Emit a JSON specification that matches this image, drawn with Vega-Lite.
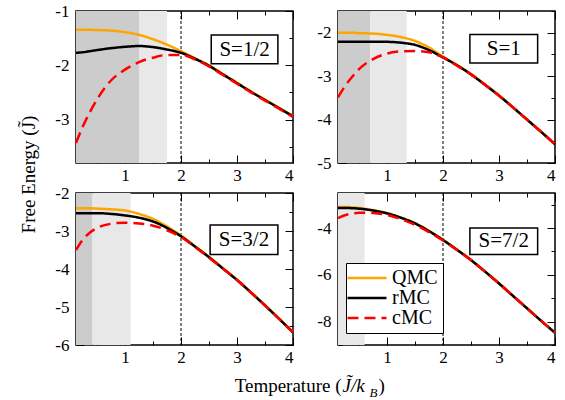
{
  "$schema": "https://vega.github.io/schema/vega-lite/v6.json",
  "padding": {"left": 18, "top": 1, "right": 0, "bottom": 0},
  "config": {
    "font": "Liberation Serif",
    "view": {"stroke": "black", "strokeWidth": 1.5},
    "axis": {
      "domain": false, "grid": false, "ticks": true,
      "tickColor": "black", "tickWidth": 1,
      "labelFont": "Liberation Serif", "labelFontSize": 17, "labelColor": "black",
      "titleFont": "Liberation Serif", "titleFontSize": 19, "titleFontWeight": "normal", "titleColor": "black"
    },
    "axisX": {"labelPadding": 4},
    "axisY": {"labelPadding": 7}
  },
  "datasets": {
    "bands": [
      {"S": "1/2", "tone": "dark", "start": 0.125, "end": 1.25},
      {"S": "1/2", "tone": "light", "start": 1.25, "end": 1.75},
      {"S": "1", "tone": "dark", "start": 0.125, "end": 0.7},
      {"S": "1", "tone": "light", "start": 0.7, "end": 1.35},
      {"S": "3/2", "tone": "dark", "start": 0.125, "end": 0.42},
      {"S": "3/2", "tone": "light", "start": 0.42, "end": 1.1},
      {"S": "7/2", "tone": "light", "start": 0.125, "end": 0.6}
    ],
    "curves": [
      {"S":"1/2","method":"QMC","T":0.125,"F":-1.345},{"S":"1/2","method":"QMC","T":0.25,"F":-1.345},{"S":"1/2","method":"QMC","T":0.375,"F":-1.347},{"S":"1/2","method":"QMC","T":0.5,"F":-1.35},{"S":"1/2","method":"QMC","T":0.75,"F":-1.36},{"S":"1/2","method":"QMC","T":1,"F":-1.39},{"S":"1/2","method":"QMC","T":1.25,"F":-1.44},{"S":"1/2","method":"QMC","T":1.5,"F":-1.52},{"S":"1/2","method":"QMC","T":1.75,"F":-1.62},{"S":"1/2","method":"QMC","T":2,"F":-1.74},{"S":"1/2","method":"QMC","T":2.25,"F":-1.87},{"S":"1/2","method":"QMC","T":2.5,"F":-2.0},{"S":"1/2","method":"QMC","T":2.75,"F":-2.16},{"S":"1/2","method":"QMC","T":3,"F":-2.32},{"S":"1/2","method":"QMC","T":3.25,"F":-2.48},{"S":"1/2","method":"QMC","T":3.5,"F":-2.63},{"S":"1/2","method":"QMC","T":3.75,"F":-2.78},{"S":"1/2","method":"QMC","T":4,"F":-2.93},
      {"S":"1/2","method":"rMC","T":0.125,"F":-1.77},{"S":"1/2","method":"rMC","T":0.25,"F":-1.76},{"S":"1/2","method":"rMC","T":0.375,"F":-1.74},{"S":"1/2","method":"rMC","T":0.5,"F":-1.72},{"S":"1/2","method":"rMC","T":0.75,"F":-1.685},{"S":"1/2","method":"rMC","T":1,"F":-1.66},{"S":"1/2","method":"rMC","T":1.25,"F":-1.645},{"S":"1/2","method":"rMC","T":1.5,"F":-1.665},{"S":"1/2","method":"rMC","T":1.75,"F":-1.71},{"S":"1/2","method":"rMC","T":2,"F":-1.77},{"S":"1/2","method":"rMC","T":2.25,"F":-1.88},{"S":"1/2","method":"rMC","T":2.5,"F":-2.01},{"S":"1/2","method":"rMC","T":2.75,"F":-2.17},{"S":"1/2","method":"rMC","T":3,"F":-2.33},{"S":"1/2","method":"rMC","T":3.25,"F":-2.49},{"S":"1/2","method":"rMC","T":3.5,"F":-2.64},{"S":"1/2","method":"rMC","T":3.75,"F":-2.79},{"S":"1/2","method":"rMC","T":4,"F":-2.94},
      {"S":"1/2","method":"cMC","T":0.125,"F":-3.43},{"S":"1/2","method":"cMC","T":0.25,"F":-3.12},{"S":"1/2","method":"cMC","T":0.375,"F":-2.86},{"S":"1/2","method":"cMC","T":0.5,"F":-2.63},{"S":"1/2","method":"cMC","T":0.75,"F":-2.28},{"S":"1/2","method":"cMC","T":1,"F":-2.08},{"S":"1/2","method":"cMC","T":1.25,"F":-1.94},{"S":"1/2","method":"cMC","T":1.5,"F":-1.86},{"S":"1/2","method":"cMC","T":1.75,"F":-1.81},{"S":"1/2","method":"cMC","T":2,"F":-1.81},{"S":"1/2","method":"cMC","T":2.25,"F":-1.89},{"S":"1/2","method":"cMC","T":2.5,"F":-2.02},{"S":"1/2","method":"cMC","T":2.75,"F":-2.18},{"S":"1/2","method":"cMC","T":3,"F":-2.34},{"S":"1/2","method":"cMC","T":3.25,"F":-2.5},{"S":"1/2","method":"cMC","T":3.5,"F":-2.65},{"S":"1/2","method":"cMC","T":3.75,"F":-2.8},{"S":"1/2","method":"cMC","T":4,"F":-2.95},

      {"S":"1","method":"QMC","T":0.125,"F":-2.0},{"S":"1","method":"QMC","T":0.25,"F":-2.0},{"S":"1","method":"QMC","T":0.375,"F":-2.0},{"S":"1","method":"QMC","T":0.5,"F":-2.01},{"S":"1","method":"QMC","T":0.75,"F":-2.02},{"S":"1","method":"QMC","T":1,"F":-2.05},{"S":"1","method":"QMC","T":1.25,"F":-2.1},{"S":"1","method":"QMC","T":1.5,"F":-2.19},{"S":"1","method":"QMC","T":1.75,"F":-2.34},{"S":"1","method":"QMC","T":2,"F":-2.55},{"S":"1","method":"QMC","T":2.25,"F":-2.74},{"S":"1","method":"QMC","T":2.5,"F":-2.95},{"S":"1","method":"QMC","T":2.75,"F":-3.19},{"S":"1","method":"QMC","T":3,"F":-3.44},{"S":"1","method":"QMC","T":3.25,"F":-3.72},{"S":"1","method":"QMC","T":3.5,"F":-4.0},{"S":"1","method":"QMC","T":3.75,"F":-4.28},{"S":"1","method":"QMC","T":4,"F":-4.56},
      {"S":"1","method":"rMC","T":0.125,"F":-2.21},{"S":"1","method":"rMC","T":0.25,"F":-2.21},{"S":"1","method":"rMC","T":0.375,"F":-2.21},{"S":"1","method":"rMC","T":0.5,"F":-2.21},{"S":"1","method":"rMC","T":0.75,"F":-2.21},{"S":"1","method":"rMC","T":1,"F":-2.21},{"S":"1","method":"rMC","T":1.25,"F":-2.23},{"S":"1","method":"rMC","T":1.5,"F":-2.28},{"S":"1","method":"rMC","T":1.75,"F":-2.4},{"S":"1","method":"rMC","T":2,"F":-2.57},{"S":"1","method":"rMC","T":2.25,"F":-2.75},{"S":"1","method":"rMC","T":2.5,"F":-2.96},{"S":"1","method":"rMC","T":2.75,"F":-3.2},{"S":"1","method":"rMC","T":3,"F":-3.45},{"S":"1","method":"rMC","T":3.25,"F":-3.72},{"S":"1","method":"rMC","T":3.5,"F":-4.0},{"S":"1","method":"rMC","T":3.75,"F":-4.28},{"S":"1","method":"rMC","T":4,"F":-4.57},
      {"S":"1","method":"cMC","T":0.125,"F":-3.49},{"S":"1","method":"cMC","T":0.25,"F":-3.23},{"S":"1","method":"cMC","T":0.375,"F":-3.02},{"S":"1","method":"cMC","T":0.5,"F":-2.84},{"S":"1","method":"cMC","T":0.75,"F":-2.61},{"S":"1","method":"cMC","T":1,"F":-2.48},{"S":"1","method":"cMC","T":1.25,"F":-2.43},{"S":"1","method":"cMC","T":1.5,"F":-2.42},{"S":"1","method":"cMC","T":1.75,"F":-2.45},{"S":"1","method":"cMC","T":2,"F":-2.57},{"S":"1","method":"cMC","T":2.25,"F":-2.76},{"S":"1","method":"cMC","T":2.5,"F":-2.96},{"S":"1","method":"cMC","T":2.75,"F":-3.2},{"S":"1","method":"cMC","T":3,"F":-3.45},{"S":"1","method":"cMC","T":3.25,"F":-3.72},{"S":"1","method":"cMC","T":3.5,"F":-4.0},{"S":"1","method":"cMC","T":3.75,"F":-4.28},{"S":"1","method":"cMC","T":4,"F":-4.57},

      {"S":"3/2","method":"QMC","T":0.125,"F":-2.4},{"S":"3/2","method":"QMC","T":0.25,"F":-2.4},{"S":"3/2","method":"QMC","T":0.375,"F":-2.4},{"S":"3/2","method":"QMC","T":0.5,"F":-2.41},{"S":"3/2","method":"QMC","T":0.75,"F":-2.43},{"S":"3/2","method":"QMC","T":1,"F":-2.46},{"S":"3/2","method":"QMC","T":1.25,"F":-2.55},{"S":"3/2","method":"QMC","T":1.5,"F":-2.68},{"S":"3/2","method":"QMC","T":1.75,"F":-2.88},{"S":"3/2","method":"QMC","T":2,"F":-3.12},{"S":"3/2","method":"QMC","T":2.25,"F":-3.4},{"S":"3/2","method":"QMC","T":2.5,"F":-3.68},{"S":"3/2","method":"QMC","T":2.75,"F":-3.98},{"S":"3/2","method":"QMC","T":3,"F":-4.28},{"S":"3/2","method":"QMC","T":3.25,"F":-4.61},{"S":"3/2","method":"QMC","T":3.5,"F":-4.95},{"S":"3/2","method":"QMC","T":3.75,"F":-5.3},{"S":"3/2","method":"QMC","T":4,"F":-5.66},
      {"S":"3/2","method":"rMC","T":0.125,"F":-2.53},{"S":"3/2","method":"rMC","T":0.25,"F":-2.53},{"S":"3/2","method":"rMC","T":0.375,"F":-2.53},{"S":"3/2","method":"rMC","T":0.5,"F":-2.53},{"S":"3/2","method":"rMC","T":0.75,"F":-2.55},{"S":"3/2","method":"rMC","T":1,"F":-2.59},{"S":"3/2","method":"rMC","T":1.25,"F":-2.65},{"S":"3/2","method":"rMC","T":1.5,"F":-2.75},{"S":"3/2","method":"rMC","T":1.75,"F":-2.92},{"S":"3/2","method":"rMC","T":2,"F":-3.14},{"S":"3/2","method":"rMC","T":2.25,"F":-3.41},{"S":"3/2","method":"rMC","T":2.5,"F":-3.69},{"S":"3/2","method":"rMC","T":2.75,"F":-3.99},{"S":"3/2","method":"rMC","T":3,"F":-4.29},{"S":"3/2","method":"rMC","T":3.25,"F":-4.62},{"S":"3/2","method":"rMC","T":3.5,"F":-4.96},{"S":"3/2","method":"rMC","T":3.75,"F":-5.31},{"S":"3/2","method":"rMC","T":4,"F":-5.67},
      {"S":"3/2","method":"cMC","T":0.125,"F":-3.5},{"S":"3/2","method":"cMC","T":0.25,"F":-3.22},{"S":"3/2","method":"cMC","T":0.375,"F":-3.04},{"S":"3/2","method":"cMC","T":0.5,"F":-2.92},{"S":"3/2","method":"cMC","T":0.75,"F":-2.81},{"S":"3/2","method":"cMC","T":1,"F":-2.78},{"S":"3/2","method":"cMC","T":1.25,"F":-2.8},{"S":"3/2","method":"cMC","T":1.5,"F":-2.86},{"S":"3/2","method":"cMC","T":1.75,"F":-2.98},{"S":"3/2","method":"cMC","T":2,"F":-3.16},{"S":"3/2","method":"cMC","T":2.25,"F":-3.42},{"S":"3/2","method":"cMC","T":2.5,"F":-3.7},{"S":"3/2","method":"cMC","T":2.75,"F":-3.99},{"S":"3/2","method":"cMC","T":3,"F":-4.29},{"S":"3/2","method":"cMC","T":3.25,"F":-4.62},{"S":"3/2","method":"cMC","T":3.5,"F":-4.96},{"S":"3/2","method":"cMC","T":3.75,"F":-5.31},{"S":"3/2","method":"cMC","T":4,"F":-5.67},

      {"S":"7/2","method":"QMC","T":0.125,"F":-3.1},{"S":"7/2","method":"QMC","T":0.25,"F":-3.1},{"S":"7/2","method":"QMC","T":0.375,"F":-3.11},{"S":"7/2","method":"QMC","T":0.5,"F":-3.14},{"S":"7/2","method":"QMC","T":0.75,"F":-3.23},{"S":"7/2","method":"QMC","T":1,"F":-3.36},{"S":"7/2","method":"QMC","T":1.25,"F":-3.55},{"S":"7/2","method":"QMC","T":1.5,"F":-3.79},{"S":"7/2","method":"QMC","T":1.75,"F":-4.12},{"S":"7/2","method":"QMC","T":2,"F":-4.5},{"S":"7/2","method":"QMC","T":2.25,"F":-4.92},{"S":"7/2","method":"QMC","T":2.5,"F":-5.36},{"S":"7/2","method":"QMC","T":2.75,"F":-5.85},{"S":"7/2","method":"QMC","T":3,"F":-6.36},{"S":"7/2","method":"QMC","T":3.25,"F":-6.9},{"S":"7/2","method":"QMC","T":3.5,"F":-7.43},{"S":"7/2","method":"QMC","T":3.75,"F":-7.96},{"S":"7/2","method":"QMC","T":4,"F":-8.47},
      {"S":"7/2","method":"rMC","T":0.125,"F":-3.14},{"S":"7/2","method":"rMC","T":0.25,"F":-3.14},{"S":"7/2","method":"rMC","T":0.375,"F":-3.15},{"S":"7/2","method":"rMC","T":0.5,"F":-3.17},{"S":"7/2","method":"rMC","T":0.75,"F":-3.25},{"S":"7/2","method":"rMC","T":1,"F":-3.37},{"S":"7/2","method":"rMC","T":1.25,"F":-3.56},{"S":"7/2","method":"rMC","T":1.5,"F":-3.8},{"S":"7/2","method":"rMC","T":1.75,"F":-4.13},{"S":"7/2","method":"rMC","T":2,"F":-4.51},{"S":"7/2","method":"rMC","T":2.25,"F":-4.93},{"S":"7/2","method":"rMC","T":2.5,"F":-5.37},{"S":"7/2","method":"rMC","T":2.75,"F":-5.86},{"S":"7/2","method":"rMC","T":3,"F":-6.37},{"S":"7/2","method":"rMC","T":3.25,"F":-6.9},{"S":"7/2","method":"rMC","T":3.5,"F":-7.43},{"S":"7/2","method":"rMC","T":3.75,"F":-7.96},{"S":"7/2","method":"rMC","T":4,"F":-8.48},
      {"S":"7/2","method":"cMC","T":0.125,"F":-3.57},{"S":"7/2","method":"cMC","T":0.25,"F":-3.45},{"S":"7/2","method":"cMC","T":0.375,"F":-3.38},{"S":"7/2","method":"cMC","T":0.5,"F":-3.34},{"S":"7/2","method":"cMC","T":0.75,"F":-3.36},{"S":"7/2","method":"cMC","T":1,"F":-3.44},{"S":"7/2","method":"cMC","T":1.25,"F":-3.62},{"S":"7/2","method":"cMC","T":1.5,"F":-3.86},{"S":"7/2","method":"cMC","T":1.75,"F":-4.17},{"S":"7/2","method":"cMC","T":2,"F":-4.53},{"S":"7/2","method":"cMC","T":2.25,"F":-4.94},{"S":"7/2","method":"cMC","T":2.5,"F":-5.37},{"S":"7/2","method":"cMC","T":2.75,"F":-5.86},{"S":"7/2","method":"cMC","T":3,"F":-6.37},{"S":"7/2","method":"cMC","T":3.25,"F":-6.9},{"S":"7/2","method":"cMC","T":3.5,"F":-7.43},{"S":"7/2","method":"cMC","T":3.75,"F":-7.96},{"S":"7/2","method":"cMC","T":4,"F":-8.48}
    ]
  },
  "columns": 2,
  "spacing": {"row": 30, "column": 45},
  "bounds": "flush",
  "resolve": {"scale": {"stroke": "independent", "strokeDash": "independent", "fill": "independent"}},
  "concat": [
    {
      "width": 217, "height": 152,
      "resolve": {"axis": {"x": "independent", "y": "independent"}},
      "layer": [
        {"data": {"name": "bands"}, "transform": [{"filter": "datum.S === '1/2'"}],
         "mark": "rect",
         "encoding": {"x": {"field": "start", "type": "quantitative", "axis": null}, "x2": {"field": "end"},
                      "fill": {"field": "tone", "type": "nominal", "scale": {"domain": ["dark", "light"], "range": ["#cccccc", "#e8e8e8"]}, "legend": null}}},
        {"data": {"values": [{}]}, "mark": {"type": "rule", "color": "black", "strokeWidth": 1, "strokeDash": [3, 2]},
         "encoding": {"x": {"datum": 2, "type": "quantitative", "axis": null}}},
        {"data": {"name": "curves"}, "transform": [{"filter": "datum.S === '1/2'"}],
         "mark": {"type": "line", "strokeWidth": 2.5, "interpolate": "monotone"},
         "encoding": {
           "x": {"field": "T", "type": "quantitative", "scale": {"domain": [0.125, 4], "nice": false, "zero": false},
                 "axis": {"orient": "bottom", "title": null, "ticks": false, "values": [1, 2, 3, 4], "labelExpr": "'' + datum.value"}},
           "y": {"field": "F", "type": "quantitative", "scale": {"domain": [-3.8, -1], "nice": false, "zero": false},
                 "axis": {"orient": "left", "ticks": false, "values": [-3, -2, -1], "labelExpr": "'-' + abs(datum.value)",
                          "title": "Free Energy (J\u0303)", "titleX": -38, "titleY": 163, "titleAngle": -90, "titleAlign": "center", "titleBaseline": "bottom"}},
           "stroke": {"field": "method", "type": "nominal", "scale": {"domain": ["QMC", "rMC", "cMC"], "range": ["#ffa500", "#000000", "#ff0000"]}, "legend": null},
           "strokeDash": {"field": "method", "type": "nominal", "scale": {"domain": ["QMC", "rMC", "cMC"], "range": [[1, 0], [1, 0], [11, 6]]}, "legend": null}}},
        {"data": {"values": [{}]}, "mark": {"type": "rect", "fill": "white", "stroke": "black", "strokeWidth": 1.5},
         "encoding": {
           "x": {"datum": 2.54, "type": "quantitative", "axis": {"orient": "top", "title": null, "labels": false, "values": [0.5, 1, 1.5, 2, 2.5, 3, 3.5, 4], "tickSize": {"condition": {"test": "datum.value % 1 === 0", "value": -8}, "value": -4}}},
           "x2": {"datum": 3.73},
           "y": {"datum": -1.44, "type": "quantitative", "axis": {"orient": "right", "title": null, "labels": false, "values": [-3.5, -3, -2.5, -2, -1.5, -1], "tickSize": {"condition": {"test": "datum.value % 1 === 0", "value": -8}, "value": -4}}},
           "y2": {"datum": -1.97}}},
        {"data": {"values": [{}]}, "mark": {"type": "text", "fontSize": 21, "font": "Liberation Serif", "color": "black"},
         "encoding": {
           "x": {"datum": 3.135, "type": "quantitative", "axis": {"orient": "bottom", "title": null, "labels": false, "values": [0.5, 1, 1.5, 2, 2.5, 3, 3.5, 4], "tickSize": {"condition": {"test": "datum.value % 1 === 0", "value": -8}, "value": -4}}},
           "y": {"datum": -1.71, "type": "quantitative", "axis": {"orient": "left", "title": null, "labels": false, "values": [-3.5, -3, -2.5, -2, -1.5, -1], "tickSize": {"condition": {"test": "datum.value % 1 === 0", "value": -8}, "value": -4}}},
           "text": {"value": "S=1/2"}}}
      ]
    },
    {
      "width": 217, "height": 152,
      "resolve": {"axis": {"x": "independent", "y": "independent"}},
      "layer": [
        {"data": {"name": "bands"}, "transform": [{"filter": "datum.S === '1'"}],
         "mark": "rect",
         "encoding": {"x": {"field": "start", "type": "quantitative", "axis": null}, "x2": {"field": "end"},
                      "fill": {"field": "tone", "type": "nominal", "scale": {"domain": ["dark", "light"], "range": ["#cccccc", "#e8e8e8"]}, "legend": null}}},
        {"data": {"values": [{}]}, "mark": {"type": "rule", "color": "black", "strokeWidth": 1, "strokeDash": [3, 2]},
         "encoding": {"x": {"datum": 2, "type": "quantitative", "axis": null}}},
        {"data": {"name": "curves"}, "transform": [{"filter": "datum.S === '1'"}],
         "mark": {"type": "line", "strokeWidth": 2.5, "interpolate": "monotone"},
         "encoding": {
           "x": {"field": "T", "type": "quantitative", "scale": {"domain": [0.125, 4], "nice": false, "zero": false},
                 "axis": {"orient": "bottom", "title": null, "ticks": false, "values": [1, 2, 3, 4], "labelExpr": "'' + datum.value"}},
           "y": {"field": "F", "type": "quantitative", "scale": {"domain": [-5, -1.5], "nice": false, "zero": false},
                 "axis": {"orient": "left", "title": null, "ticks": false, "values": [-5, -4, -3, -2], "labelExpr": "'-' + abs(datum.value)"}},
           "stroke": {"field": "method", "type": "nominal", "scale": {"domain": ["QMC", "rMC", "cMC"], "range": ["#ffa500", "#000000", "#ff0000"]}, "legend": null},
           "strokeDash": {"field": "method", "type": "nominal", "scale": {"domain": ["QMC", "rMC", "cMC"], "range": [[1, 0], [1, 0], [11, 6]]}, "legend": null}}},
        {"data": {"values": [{}]}, "mark": {"type": "rect", "fill": "white", "stroke": "black", "strokeWidth": 1.5},
         "encoding": {
           "x": {"datum": 2.48, "type": "quantitative", "axis": {"orient": "top", "title": null, "labels": false, "values": [0.5, 1, 1.5, 2, 2.5, 3, 3.5, 4], "tickSize": {"condition": {"test": "datum.value % 1 === 0", "value": -8}, "value": -4}}},
           "x2": {"datum": 3.69},
           "y": {"datum": -2.04, "type": "quantitative", "axis": {"orient": "right", "title": null, "labels": false, "values": [-5, -4.5, -4, -3.5, -3, -2.5, -2, -1.5], "tickSize": {"condition": {"test": "datum.value % 1 === 0", "value": -8}, "value": -4}}},
           "y2": {"datum": -2.7}}},
        {"data": {"values": [{}]}, "mark": {"type": "text", "fontSize": 21, "font": "Liberation Serif", "color": "black"},
         "encoding": {
           "x": {"datum": 3.085, "type": "quantitative", "axis": {"orient": "bottom", "title": null, "labels": false, "values": [0.5, 1, 1.5, 2, 2.5, 3, 3.5, 4], "tickSize": {"condition": {"test": "datum.value % 1 === 0", "value": -8}, "value": -4}}},
           "y": {"datum": -2.37, "type": "quantitative", "axis": {"orient": "left", "title": null, "labels": false, "values": [-5, -4.5, -4, -3.5, -3, -2.5, -2, -1.5], "tickSize": {"condition": {"test": "datum.value % 1 === 0", "value": -8}, "value": -4}}},
           "text": {"value": "S=1"}}}
      ]
    },
    {
      "width": 217, "height": 152,
      "resolve": {"axis": {"x": "independent", "y": "independent"}},
      "layer": [
        {"data": {"name": "bands"}, "transform": [{"filter": "datum.S === '3/2'"}],
         "mark": "rect",
         "encoding": {"x": {"field": "start", "type": "quantitative",
                            "axis": {"orient": "bottom", "labels": false, "ticks": false, "title": "J\u0303/k", "titleFontStyle": "italic", "titleX": 266, "titleY": 46, "titleAlign": "left", "titleBaseline": "alphabetic"}},
                      "x2": {"field": "end"},
                      "fill": {"field": "tone", "type": "nominal", "scale": {"domain": ["dark", "light"], "range": ["#cccccc", "#e8e8e8"]}, "legend": null}}},
        {"data": {"values": [{}]}, "mark": {"type": "rule", "color": "black", "strokeWidth": 1, "strokeDash": [3, 2]},
         "encoding": {"x": {"datum": 2, "type": "quantitative", "axis": null}}},
        {"data": {"name": "curves"}, "transform": [{"filter": "datum.S === '3/2'"}],
         "mark": {"type": "line", "strokeWidth": 2.5, "interpolate": "monotone"},
         "encoding": {
           "x": {"field": "T", "type": "quantitative", "scale": {"domain": [0.125, 4], "nice": false, "zero": false},
                 "axis": {"orient": "bottom", "ticks": false, "values": [1, 2, 3, 4], "labelExpr": "'' + datum.value",
                          "title": "Temperature (", "titleX": 265, "titleY": 46, "titleAlign": "right", "titleBaseline": "alphabetic"}},
           "y": {"field": "F", "type": "quantitative", "scale": {"domain": [-6, -2], "nice": false, "zero": false},
                 "axis": {"orient": "left", "title": null, "ticks": false, "values": [-6, -5, -4, -3, -2], "labelExpr": "'-' + abs(datum.value)"}},
           "stroke": {"field": "method", "type": "nominal", "scale": {"domain": ["QMC", "rMC", "cMC"], "range": ["#ffa500", "#000000", "#ff0000"]}, "legend": null},
           "strokeDash": {"field": "method", "type": "nominal", "scale": {"domain": ["QMC", "rMC", "cMC"], "range": [[1, 0], [1, 0], [11, 6]]}, "legend": null}}},
        {"data": {"values": [{}]}, "mark": {"type": "rect", "fill": "white", "stroke": "black", "strokeWidth": 1.5},
         "encoding": {
           "x": {"datum": 2.52, "type": "quantitative", "axis": {"orient": "top", "title": null, "labels": false, "values": [0.5, 1, 1.5, 2, 2.5, 3, 3.5, 4], "tickSize": {"condition": {"test": "datum.value % 1 === 0", "value": -8}, "value": -4}}},
           "x2": {"datum": 3.73},
           "y": {"datum": -2.84, "type": "quantitative", "axis": {"orient": "right", "title": null, "labels": false, "values": [-6, -5.5, -5, -4.5, -4, -3.5, -3, -2.5, -2], "tickSize": {"condition": {"test": "datum.value % 1 === 0", "value": -8}, "value": -4}}},
           "y2": {"datum": -3.62}}},
        {"data": {"values": [{}]}, "mark": {"type": "text", "fontSize": 21, "font": "Liberation Serif", "color": "black"},
         "encoding": {
           "x": {"datum": 3.125, "type": "quantitative", "axis": {"orient": "bottom", "title": null, "labels": false, "values": [0.5, 1, 1.5, 2, 2.5, 3, 3.5, 4], "tickSize": {"condition": {"test": "datum.value % 1 === 0", "value": -8}, "value": -4}}},
           "y": {"datum": -3.23, "type": "quantitative", "axis": {"orient": "left", "title": null, "labels": false, "values": [-6, -5.5, -5, -4.5, -4, -3.5, -3, -2.5, -2], "tickSize": {"condition": {"test": "datum.value % 1 === 0", "value": -8}, "value": -4}}},
           "text": {"value": "S=3/2"}}}
      ]
    },
    {
      "width": 217, "height": 152,
      "resolve": {"axis": {"x": "independent", "y": "independent"}},
      "layer": [
        {"data": {"name": "bands"}, "transform": [{"filter": "datum.S === '7/2'"}],
         "mark": "rect",
         "encoding": {"x": {"field": "start", "type": "quantitative",
                            "axis": {"orient": "bottom", "labels": false, "ticks": false, "title": ")", "titleX": 40, "titleY": 46, "titleAlign": "left", "titleBaseline": "alphabetic"}},
                      "x2": {"field": "end"},
                      "fill": {"field": "tone", "type": "nominal", "scale": {"domain": ["dark", "light"], "range": ["#cccccc", "#e8e8e8"]}, "legend": null}}},
        {"data": {"values": [{}]}, "mark": {"type": "rule", "color": "black", "strokeWidth": 1, "strokeDash": [3, 2]},
         "encoding": {"x": {"datum": 2, "type": "quantitative", "axis": null}}},
        {"data": {"name": "curves"}, "transform": [{"filter": "datum.S === '7/2'"}],
         "mark": {"type": "line", "strokeWidth": 2.5, "interpolate": "monotone"},
         "encoding": {
           "x": {"field": "T", "type": "quantitative", "scale": {"domain": [0.125, 4], "nice": false, "zero": false},
                 "axis": {"orient": "bottom", "ticks": false, "values": [1, 2, 3, 4], "labelExpr": "'' + datum.value",
                          "title": "B", "titleFontSize": 13, "titleFontStyle": "italic", "titleX": 31, "titleY": 51, "titleAlign": "left", "titleBaseline": "alphabetic"}},
           "y": {"field": "F", "type": "quantitative", "scale": {"domain": [-9, -2.5], "nice": false, "zero": false},
                 "axis": {"orient": "left", "title": null, "ticks": false, "values": [-8, -6, -4], "labelExpr": "'-' + abs(datum.value)"}},
           "stroke": {"field": "method", "type": "nominal", "scale": {"domain": ["QMC", "rMC", "cMC"], "range": ["#ffa500", "#000000", "#ff0000"]},
                      "legend": {"orient": "none", "legendX": 8, "legendY": 70, "title": null, "direction": "vertical", "strokeColor": "black", "fillColor": "white", "padding": 5, "symbolType": "M-2.6,0H2.6", "symbolSize": 225, "symbolOffset": 6, "symbolStrokeWidth": 2.5, "labelFont": "Liberation Serif", "labelFontSize": 20, "labelColor": "black", "labelOffset": 15, "rowPadding": -5}},
           "strokeDash": {"field": "method", "type": "nominal", "scale": {"domain": ["QMC", "rMC", "cMC"], "range": [[1, 0], [1, 0], [11, 6]]},
                      "legend": {"orient": "none", "legendX": 8, "legendY": 70, "title": null, "direction": "vertical", "strokeColor": "black", "fillColor": "white", "padding": 5, "symbolType": "M-2.6,0H2.6", "symbolSize": 225, "symbolOffset": 6, "symbolStrokeWidth": 2.5, "labelFont": "Liberation Serif", "labelFontSize": 20, "labelColor": "black", "labelOffset": 15, "rowPadding": -5}}}},
        {"data": {"values": [{}]}, "mark": {"type": "rect", "fill": "white", "stroke": "black", "strokeWidth": 1.5},
         "encoding": {
           "x": {"datum": 2.48, "type": "quantitative", "axis": {"orient": "top", "title": null, "labels": false, "values": [0.5, 1, 1.5, 2, 2.5, 3, 3.5, 4], "tickSize": {"condition": {"test": "datum.value % 1 === 0", "value": -8}, "value": -4}}},
           "x2": {"datum": 3.69},
           "y": {"datum": -4.0, "type": "quantitative", "axis": {"orient": "right", "title": null, "labels": false, "values": [-9, -8, -7, -6, -5, -4, -3], "tickSize": {"condition": {"test": "datum.value % 2 === 0", "value": -8}, "value": -4}}},
           "y2": {"datum": -5.13}}},
        {"data": {"values": [{}]}, "mark": {"type": "text", "fontSize": 21, "font": "Liberation Serif", "color": "black"},
         "encoding": {
           "x": {"datum": 3.085, "type": "quantitative", "axis": {"orient": "bottom", "title": null, "labels": false, "values": [0.5, 1, 1.5, 2, 2.5, 3, 3.5, 4], "tickSize": {"condition": {"test": "datum.value % 1 === 0", "value": -8}, "value": -4}}},
           "y": {"datum": -4.57, "type": "quantitative", "axis": {"orient": "left", "title": null, "labels": false, "values": [-9, -8, -7, -6, -5, -4, -3], "tickSize": {"condition": {"test": "datum.value % 2 === 0", "value": -8}, "value": -4}}},
           "text": {"value": "S=7/2"}}}
      ]
    }
  ]
}
